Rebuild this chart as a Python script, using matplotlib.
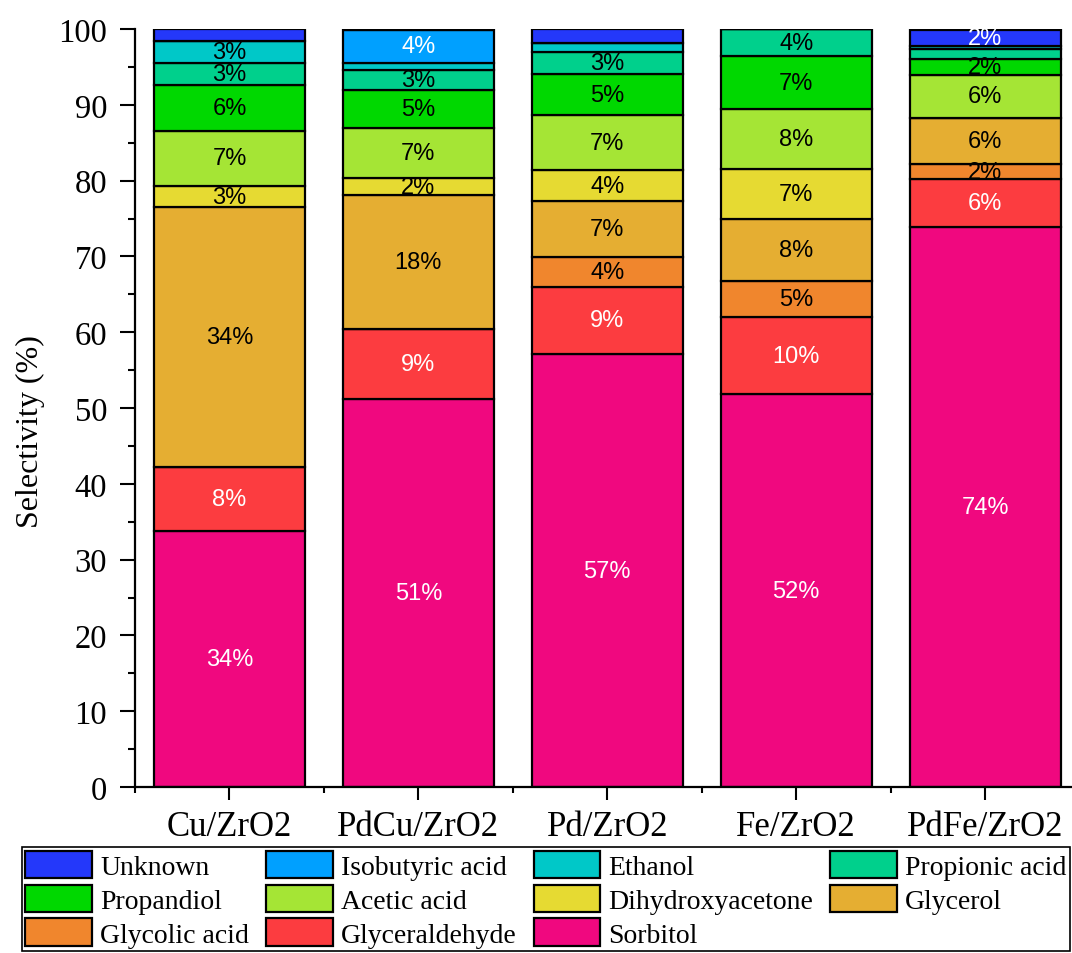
import matplotlib
matplotlib.use('Agg')
import matplotlib.pyplot as plt
import numpy as np
from matplotlib.ticker import MultipleLocator, FixedLocator

plt.rcParams['font.family'] = ['Liberation Serif', 'DejaVu Serif']

catalysts = ['Cu/ZrO2', 'PdCu/ZrO2', 'Pd/ZrO2', 'Fe/ZrO2', 'PdFe/ZrO2']

# stacked from the bottom up
products = ['Sorbitol', 'Glyceraldehyde', 'Glycolic acid', 'Glycerol',
            'Dihydroxyacetone', 'Acetic acid', 'Propandiol', 'Propionic acid',
            'Ethanol', 'Isobutyric acid', 'Unknown']

sorbitol         = [33.8, 51.2, 57.1, 51.8, 73.9]
glyceraldehyde   = [8.4, 9.2, 8.9, 10.2, 6.3]
glycolic_acid    = [0.0, 0.0, 3.9, 4.7, 2.0]
glycerol         = [34.3, 17.7, 7.4, 8.2, 6.1]
dihydroxyacetone = [2.8, 2.2, 4.1, 6.6, 0.0]
acetic_acid      = [7.3, 6.7, 7.2, 7.9, 5.6]
propandiol       = [6.0, 5.0, 5.4, 7.0, 2.2]
propionic_acid   = [2.9, 2.6, 3.0, 3.6, 1.2]
ethanol          = [2.9, 0.9, 1.2, 0.0, 0.4]
isobutyric_acid  = [0.0, 4.4, 0.0, 0.0, 0.0]
unknown          = [1.6, 0.0, 1.8, 0.0, 2.2]

series = [sorbitol, glyceraldehyde, glycolic_acid, glycerol, dihydroxyacetone,
          acetic_acid, propandiol, propionic_acid, ethanol, isobutyric_acid, unknown]

colors = {
    'Unknown': '#2438FA',
    'Isobutyric acid': '#00A0FF',
    'Ethanol': '#00C8C8',
    'Propionic acid': '#00D08C',
    'Propandiol': '#00D800',
    'Acetic acid': '#A5E535',
    'Dihydroxyacetone': '#E6DA32',
    'Glycerol': '#E5AE32',
    'Glycolic acid': '#F0862D',
    'Glyceraldehyde': '#FC3C40',
    'Sorbitol': '#F0087F',
}
white_text = {'Sorbitol', 'Glyceraldehyde', 'Isobutyric acid', 'Unknown'}

# legend is filled column by column (4 columns, 3 rows)
legend_order = ['Unknown', 'Propandiol', 'Glycolic acid',
                'Isobutyric acid', 'Acetic acid', 'Glyceraldehyde',
                'Ethanol', 'Dihydroxyacetone', 'Sorbitol',
                'Propionic acid', 'Glycerol']

fig = plt.figure(figsize=(10.72, 9.54), dpi=100)
ax = fig.add_axes([135 / 1072, 1 - 788 / 954, 1 - 135 / 1072, (788 - 30) / 954])

x = np.arange(len(catalysts))
bottom = np.zeros(len(catalysts))
handles = {}
for name, vals in zip(products, series):
    vals = np.array(vals)
    bars = ax.bar(x, vals, 0.8, bottom=bottom, color=colors[name],
                  edgecolor='black', linewidth=1.6, label=name)
    handles[name] = bars
    for xi, v, b in zip(x, vals, bottom):
        if v >= 1.95:
            ax.text(xi, b + v / 2, f'{round(v):d}%', ha='center', va='center',
                    fontsize=17, family='Liberation Sans',
                    color='white' if name in white_text else 'black')
    bottom += vals

ax.set_xlim(-0.5, 4.46)
ax.set_ylim(0, 100)
ax.set_xticks(x)
ax.set_xticklabels(catalysts, fontsize=25)
ax.xaxis.set_minor_locator(FixedLocator(np.arange(-0.5, 5, 1)))
ax.yaxis.set_major_locator(MultipleLocator(10))
ax.yaxis.set_minor_locator(MultipleLocator(5))
ax.tick_params(axis='x', which='major', direction='out', length=9.5, width=1.5, pad=7)
ax.tick_params(axis='x', which='minor', direction='out', length=4.5, width=1.5)
ax.tick_params(axis='y', which='major', direction='out', length=11, width=1.5,
               pad=9, labelsize=23.5)
ax.tick_params(axis='y', which='minor', direction='out', length=5, width=1.5)
ax.set_ylabel('Selectivity (%)', fontsize=23)
ax.yaxis.set_label_coords(-0.096, 0.47)

for side in ['top', 'right']:
    ax.spines[side].set_visible(False)
for side in ['left', 'bottom']:
    ax.spines[side].set_linewidth(1.6)

leg = fig.legend([handles[n] for n in legend_order], legend_order,
                 loc='lower left', ncol=4, mode='expand',
                 bbox_to_anchor=(22 / 1072, 2 / 954, 1048 / 1072, 107 / 954),
                 borderaxespad=0, fontsize=20, frameon=True, fancybox=False,
                 edgecolor='black', framealpha=1, handlelength=2.4,
                 handleheight=1.15, handletextpad=0.3, labelspacing=0.17,
                 borderpad=0.12, columnspacing=0.3)
leg.get_frame().set_linewidth(1.2)

fig.savefig('out.png', dpi=100)
